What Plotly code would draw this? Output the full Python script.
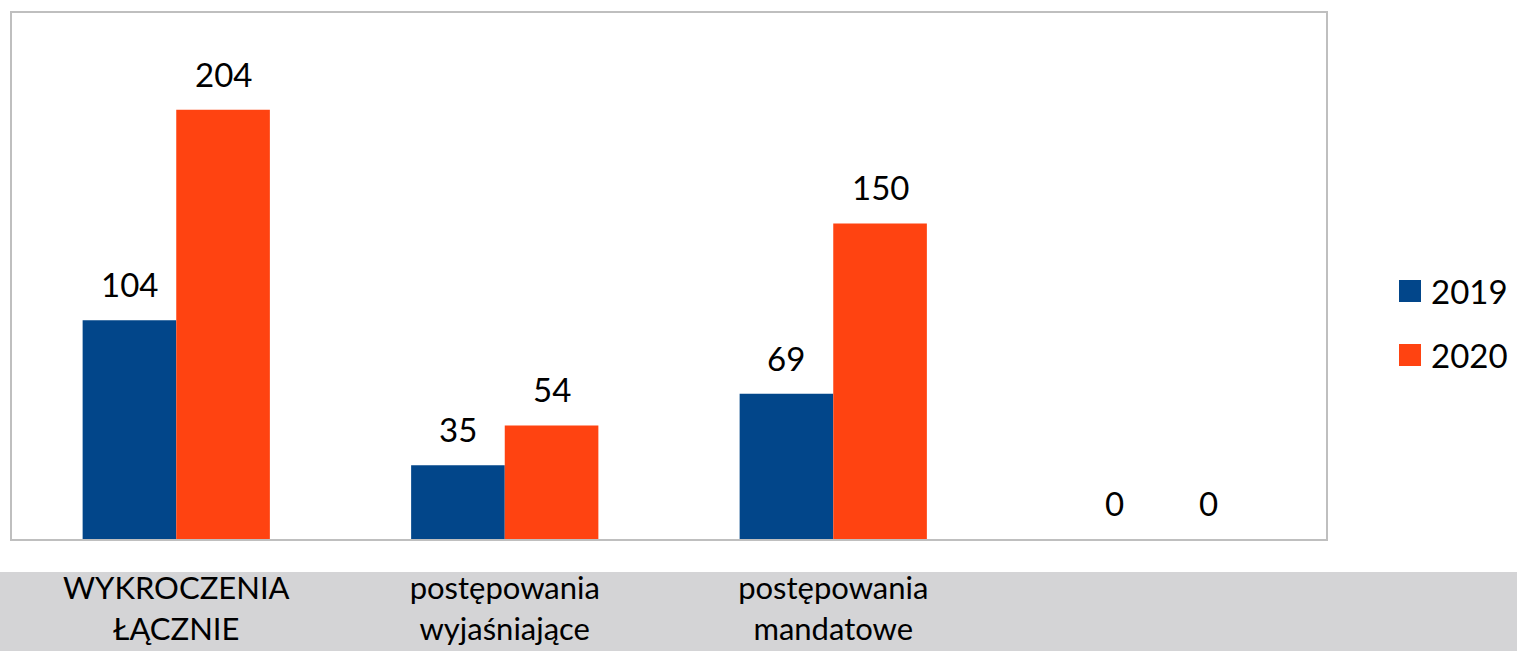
import plotly.graph_objects as go

categories = ["WYKROCZENIA<br>ŁĄCZNIE", "postępowania<br>wyjaśniające", "postępowania<br>mandatowe", " "]
series_names = ["2019", "2020"]
values_2019 = [104, 35, 69, 0]
values_2020 = [204, 54, 150, 0]
colors = ["#02468A", "#FF4311"]

W, H = 1517, 651
L, R, T, B = 12, 1326, 13, 539  # plot-area pixel edges
FONT = "Lato"
FS = 33
BARGAP = 0.43

def px_x(p):
    return (p - L) / (R - L)

def px_y(p):
    return (B - p) / (B - T)

fig = go.Figure()
all_vals = [values_2019, values_2020]
for name, vals, col in zip(series_names, all_vals, colors):
    fig.add_trace(go.Bar(x=categories, y=vals, name=name, marker=dict(color=col, line=dict(width=0)),
                         showlegend=False, hoverinfo="skip"))

# value labels above bars
cat_w = (R - L) / len(categories)
bar_w = cat_w * (1 - BARGAP) / 2
for i, vals in enumerate(all_vals):
    for c, v in zip(categories, vals):
        fig.add_annotation(x=c, y=v, text=str(v), showarrow=False, xref="x", yref="y",
                           xshift=(i - 0.5) * bar_w, yshift=14, yanchor="bottom",
                           font=dict(family=FONT, size=FS, color="black"))

# gray band behind category labels
fig.add_shape(type="rect", xref="paper", yref="paper", x0=px_x(-2), x1=px_x(W + 2), y0=px_y(572),
              y1=px_y(H + 5), fillcolor="#D4D4D6", line=dict(width=0), layer="below")

# custom legend
leg_y = [291, 355]
for name, col, cy in zip(series_names, colors, leg_y):
    fig.add_shape(type="rect", xref="paper", yref="paper", x0=px_x(1399), x1=px_x(1421),
                  y0=px_y(cy + 11), y1=px_y(cy - 11), fillcolor=col, line=dict(width=0))
    fig.add_annotation(x=px_x(1429), y=px_y(cy), xref="paper", yref="paper", text=name,
                       showarrow=False, xanchor="left", yanchor="middle",
                       font=dict(family=FONT, size=FS, color="black"))

fig.update_layout(
    width=W, height=H,
    margin=dict(l=L, r=W - R, t=T, b=H - B, pad=0, autoexpand=False),
    paper_bgcolor="white", plot_bgcolor="white",
    barmode="group", bargap=BARGAP, bargroupgap=0,
    showlegend=False,
    font=dict(family=FONT, size=FS, color="black"),
)
fig.update_xaxes(showline=True, mirror=True, linecolor="#BFBFBF", linewidth=2, showgrid=False,
                 ticks="", tickfont=dict(family=FONT, size=31, color="black"), ticklabelstandoff=21,
                 zeroline=False, automargin=False, fixedrange=True)
fig.update_yaxes(range=[0, 250], showline=True, mirror=True, linecolor="#BFBFBF", linewidth=2,
                 showgrid=False, showticklabels=False, ticks="", zeroline=False, automargin=False,
                 fixedrange=True)

fig.write_html("out.html", config={"displayModeBar": False},
               post_script="document.body.style.margin='0';document.body.style.padding='0';"
                           "document.body.style.overflow='hidden';")
